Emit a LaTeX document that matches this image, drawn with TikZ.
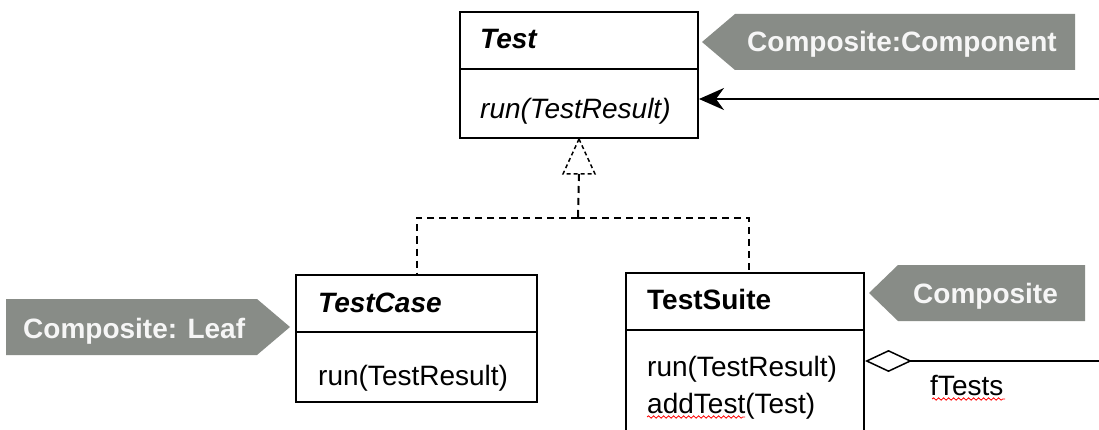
\documentclass[tikz,border=0pt]{standalone}
\usepackage{fontspec}
\setmainfont{Liberation Sans}
\usetikzlibrary{arrows.meta,decorations.pathmorphing}
\definecolor{tagGray}{RGB}{136,140,135}
\definecolor{tagText}{RGB}{246,246,246}
\begin{document}
\begin{tikzpicture}[x=1pt,y=-1pt,
  classbox/.style={draw, line width=2pt, inner sep=0pt, anchor=north west},
  divider/.style={line width=2pt},
  txt/.style={inner sep=0pt, anchor=base west, font=\fontsize{28}{32}\selectfont},
  tagtxt/.style={txt, text=tagText, font=\fontsize{28}{32}\selectfont\bfseries},
  tagfill/.style={fill=tagGray},
  dashline/.style={line width=2pt, dash pattern=on 7pt off 5pt},
  tridash/.style={line width=1.5pt, dash pattern=on 4pt off 3pt},
  assoc/.style={line width=2pt},
  squiggle/.style={red, line width=0.8pt, decorate, decoration={snake, segment length=5pt, amplitude=1.2pt}}
]
\useasboundingbox (0,0) rectangle (1099,430);
\fill[white] (0,0) rectangle (1099,430);
\clip (0,0) rectangle (1099,430);

% Test class
\node[classbox, minimum width=238pt, minimum height=126pt] (test) at (459,11) {};
\draw[divider] (test.west |- 0,69) -- (test.east |- 0,69);
\node[txt] (testname) at (480,49) {\bfseries\itshape Test};
\node[txt] (testrun) at (480,119) {\itshape run(TestResult)};

% TestCase class
\node[classbox, minimum width=241pt, minimum height=127pt] (testcase) at (295,274) {};
\draw[divider] (testcase.west |- 0,332) -- (testcase.east |- 0,332);
\node[txt] (tcname) at (318,312) {\bfseries\itshape TestCase};
\node[txt] (tcrun) at (318,385) {run(TestResult)};

% TestSuite class
\node[classbox, minimum width=238pt, minimum height=170pt] (testsuite) at (625,272) {};
\draw[divider] (testsuite.west |- 0,330) -- (testsuite.east |- 0,330);
\node[txt] (tsname) at (647,309) {\bfseries TestSuite};
\node[txt] (tsrun) at (647,376) {run(TestResult)};
\node[txt] (tsadd) at (647,413) {addTest(Test)};

% realization
\coordinate (join) at (578,218);
\draw[tridash] (test.south) -- ++(-16,35) -- ++(32,0) -- cycle;
\draw[dashline] ([yshift=-35pt]test.south) -- (join);
\draw[dashline] (join) -| (testcase.north);
\draw[dashline] (join) -| ([xshift=4pt]testsuite.north);

% association to Test
\coordinate (assocEnd) at (1110,99);
\draw[assoc, -{Stealth[length=25pt,width=22pt,inset=8pt]}] (assocEnd) -- (test.east |- assocEnd);

% aggregation fTests
\coordinate (aggEnd) at (1110,361);
\draw[assoc, {Diamond[open, length=47pt, width=22pt, line width=1.5pt]}-] (testsuite.east |- aggEnd) -- (aggEnd);
\node[txt] (ftests) at (930,395) {fTests};

% tags
\fill[tagfill] (702,42) -- (735,14) -- (1075,14) -- (1075,70) -- (735,70) -- cycle;
\node[tagtxt] (tagcomponent) at (747,52) {Composite:Component};
\fill[tagfill] (6,299) -- (257,299) -- (290,327) -- (257,355) -- (6,355) -- cycle;
\node[tagtxt] (tagleaf) at (23,338) {Composite: Leaf};
\fill[tagfill] (869,293) -- (898,265) -- (1085,265) -- (1085,321) -- (898,321) -- cycle;
\node[tagtxt] (tagcomposite) at (913,303) {Composite};

% spell-check squiggles
\draw[squiggle] (647,417) -- (745,417);
\draw[squiggle] (932,399) -- (1005,399);
\end{tikzpicture}
\end{document}
